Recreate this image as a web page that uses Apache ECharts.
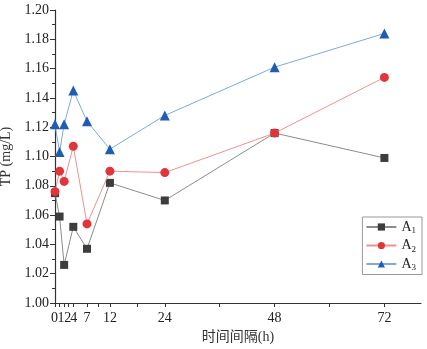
<!DOCTYPE html>
<html>
<head>
<meta charset="utf-8">
<script src="https://cdn.jsdelivr.net/npm/echarts@6/dist/echarts.min.js"></script>
<style>
  html, body { margin: 0; padding: 0; background: #fff; }
  #chart { width: 427px; height: 349px; }
</style>
</head>
<body>
<div id="chart"></div>
<script>
const hours = [0, 1, 2, 4, 7, 12, 24, 48, 72]
const a1 = [1.075, 1.059, 1.026, 1.052, 1.037, 1.082, 1.070, 1.116, 1.099]
const a2 = [1.076, 1.090, 1.083, 1.107, 1.054, 1.090, 1.089, 1.116, 1.154]
const a3 = [1.122, 1.103, 1.122, 1.145, 1.124, 1.105, 1.128, 1.161, 1.184]
// the crowded labels near zero are split over two axes so none gets hidden
const xLabelsMain = [0, 2, 7, 12, 24, 48, 72]
const xLabelsExtra = [1, 4]
const xTicks = [0, 1, 2, 3, 4, 7, 9.5, 12, 18, 24, 36, 48, 60, 72]

const font = "'Liberation Serif', 'Noto Sans CJK SC', serif"

const pairs = (vals) => hours.map((h, i) => [h, vals[i]])

// nudge the crowded labels a little apart, like the original
const nudge = { 0: [0, 1, 0, 0], 1: [0, 0, 0, 3], 2: [0, 0, 0, 7], 4: [0, 0, 0, 1] }
const richLabels = {}
Object.keys(nudge).forEach((k) => {
  richLabels['n' + k] = { fontFamily: font, fontSize: 14, color: '#222', padding: nudge[k] }
})

const labelStyle = {
  color: '#222',
  fontSize: 14,
  margin: 8,
  showMinLabel: true,
  hideOverlap: false,
  formatter: (v) => (nudge[v] ? '{n' + v + '|' + v + '}' : String(v)),
  rich: richLabels,
}

const chart = echarts.init(document.getElementById('chart'))
chart.setOption({
  animation: false,
  textStyle: { fontFamily: font },
  grid: { left: 55, right: 6, top: 10, bottom: 46, outerBoundsMode: 'none', containLabel: false },
  legend: {
    orient: 'vertical',
    right: 5,
    top: 217,
    itemWidth: 30,
    itemHeight: 9,
    itemGap: 3,
    borderColor: '#999',
    borderWidth: 1,
    borderRadius: 0,
    padding: [3, 6, 2, 3],
    formatter: (name) => '{a|A}{s|' + name.slice(1) + '}',
    textStyle: {
      rich: {
        a: { fontFamily: font, fontSize: 14, color: '#222' },
        s: { fontFamily: font, fontSize: 9, color: '#222', padding: [8, 0, 0, 0] },
      },
    },
    data: ['A1', 'A2', 'A3'],
  },
  xAxis: [
    {
      type: 'value',
      min: 0,
      max: 80,
      name: '时间间隔(h)',
      nameLocation: 'middle',
      nameGap: 27,
      nameTextStyle: { fontFamily: font, fontSize: 14, color: '#333' },
      axisLine: { lineStyle: { color: '#333', width: 1.2 } },
      axisTick: { customValues: xTicks, length: 4, lineStyle: { color: '#333' } },
      axisLabel: Object.assign({ customValues: xLabelsMain }, labelStyle),
      splitLine: { show: false },
    },
    {
      type: 'value',
      position: 'bottom',
      min: 0,
      max: 80,
      axisLine: { show: false },
      axisTick: { show: false },
      axisLabel: Object.assign({ customValues: xLabelsExtra }, labelStyle),
      splitLine: { show: false },
    },
  ],
  yAxis: {
    type: 'value',
    min: 1.0,
    max: 1.2,
    interval: 0.02,
    name: 'TP (mg/L)',
    nameLocation: 'middle',
    nameGap: 37,
    nameTextStyle: { fontFamily: font, fontSize: 14, color: '#333' },
    axisLine: { show: true, lineStyle: { color: '#333', width: 1.2 } },
    axisTick: { show: true, length: 5, lineStyle: { color: '#333' } },
    minorTick: { show: true, splitNumber: 2, length: 3, lineStyle: { color: '#333' } },
    axisLabel: {
      color: '#222',
      fontSize: 14,
      margin: 6,
      formatter: (v) => v.toFixed(2),
    },
    splitLine: { show: false },
  },
  series: [
    {
      name: 'A1',
      type: 'line',
      data: pairs(a1),
      symbol: 'rect',
      symbolSize: 8,
      itemStyle: { color: '#3d3d3d' },
      lineStyle: { color: '#8c8c8c', width: 1 },
      z: 2,
    },
    {
      name: 'A2',
      type: 'line',
      data: pairs(a2),
      symbol: 'circle',
      symbolSize: 9,
      itemStyle: { color: '#e0353a' },
      lineStyle: { color: '#f09090', width: 1 },
      z: 3,
    },
    {
      name: 'A3',
      type: 'line',
      data: pairs(a3),
      symbol: 'triangle',
      symbolSize: 10,
      itemStyle: { color: '#1f5db3' },
      lineStyle: { color: '#80a8dc', width: 1 },
      z: 4,
    },
  ],
})
</script>
</body>
</html>
